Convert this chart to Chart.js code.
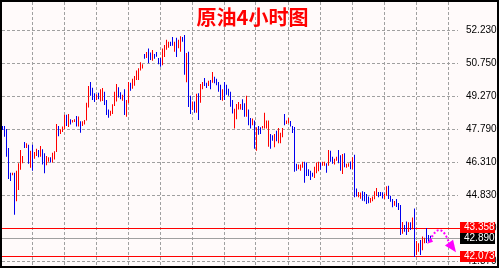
<!DOCTYPE html>
<html>
<head>
<meta charset="utf-8">
<script src="https://cdn.jsdelivr.net/npm/chart.js@4.4.1/dist/chart.umd.min.js"></script>
<style>
  html, body { margin: 0; padding: 0; background: #fffafa; }
  #wrapper { width: 499px; height: 268px; }
</style>
</head>
<body>
<div id="wrapper"><canvas id="canvas" width="499" height="268"></canvas></div>
<script>
// 4h bars, oldest first (high / low / up=1 red, down=0 blue)
var highs = [
  47.95, 47.95, 47.81, 46.96, 45.85, 45.85, 45.85, 45.94, 46.28, 46.87,
  46.60, 47.23, 47.17, 47.11, 46.84, 47.11, 46.78, 46.93, 46.87, 47.05,
  46.90, 46.72, 46.60, 46.54, 46.54, 46.75, 46.81, 48.04, 47.95, 47.80,
  47.92, 48.45, 48.45, 48.48, 48.25, 48.22, 48.25, 48.40, 48.37, 48.16,
  48.16, 48.22, 48.99, 49.74, 49.92, 49.66, 49.42, 49.37, 49.44, 49.59,
  49.65, 49.48, 49.11, 48.69, 48.63, 48.92, 49.48, 49.83, 49.68, 49.46,
  49.35, 49.59, 49.11, 49.92, 49.89, 50.06, 50.19, 50.43, 50.54, 50.81,
  50.72, 51.18, 51.27, 51.42, 51.24, 51.36, 51.18, 51.27, 51.00, 51.00,
  51.42, 51.58, 51.81, 51.72, 51.72, 51.94, 51.72, 51.90, 51.81, 51.97,
  51.94, 52.03, 51.22, 51.28, 49.30, 49.04, 49.04, 49.39, 49.42, 49.83,
  49.92, 50.10, 49.89, 49.98, 50.01, 50.37, 50.16, 50.07, 49.92, 49.80,
  49.59, 49.92, 49.80, 49.62, 49.48, 49.11, 48.72, 48.93, 49.02, 48.93,
  49.15, 48.97, 49.30, 48.69, 48.31, 48.28, 48.19, 47.89, 47.95, 47.89,
  47.95, 48.54, 48.19, 48.19, 47.59, 47.53, 47.59, 47.73, 47.86, 47.64,
  47.86, 48.48, 48.19, 48.31, 48.17, 47.95, 47.90, 46.25, 46.22, 46.22,
  46.34, 46.34, 46.31, 46.01, 45.94, 45.85, 46.12, 46.31, 46.34, 46.31,
  46.34, 46.34, 46.28, 46.87, 46.84, 46.57, 46.48, 46.57, 46.87, 46.63,
  46.69, 46.72, 46.25, 46.28, 46.36, 46.54, 46.66, 45.14, 44.99, 44.96,
  45.02, 44.99, 44.90, 44.78, 44.72, 44.78, 45.02, 45.17, 44.99, 44.99,
  44.98, 44.91, 45.25, 45.27, 44.82, 44.67, 44.58, 44.67, 44.49, 44.40,
  43.64, 43.51, 43.66, 43.63, 43.63, 43.84, 44.25, 42.79, 42.69, 42.84,
  42.99, 42.94, 43.37, 43.06, 43.03
];
var lows = [
  47.77, 47.46, 46.57, 45.57, 45.48, 45.74, 43.97, 44.57, 45.08, 45.98,
  46.28, 46.96, 46.96, 46.25, 46.07, 45.94, 46.48, 46.60, 46.54, 46.57,
  46.22, 45.83, 46.19, 46.34, 46.31, 46.31, 46.45, 46.78, 47.49, 47.59,
  47.68, 47.80, 47.95, 47.90, 48.01, 48.10, 48.13, 47.92, 47.92, 47.64,
  47.95, 48.01, 48.19, 48.78, 49.30, 49.11, 49.02, 49.11, 49.15, 49.04,
  49.07, 48.89, 48.44, 48.32, 48.41, 48.49, 48.84, 49.04, 49.22, 49.15,
  49.08, 48.44, 48.36, 48.97, 49.53, 49.62, 49.75, 50.01, 50.01, 50.43,
  50.52, 50.96, 51.00, 50.76, 50.91, 50.87, 50.96, 51.05, 50.72, 50.60,
  50.67, 51.04, 51.37, 51.46, 51.53, 51.55, 51.28, 51.04, 51.43, 51.28,
  51.72, 50.24, 49.91, 48.80, 48.48, 48.66, 48.54, 48.54, 48.22, 48.99,
  49.59, 49.74, 49.65, 49.74, 49.59, 49.89, 49.86, 49.77, 49.48, 49.11,
  49.08, 49.11, 49.35, 49.30, 48.81, 48.51, 47.83, 48.25, 48.69, 48.69,
  48.66, 48.36, 48.36, 47.98, 47.83, 47.98, 46.93, 46.84, 47.55, 47.59,
  47.83, 47.83, 47.83, 47.02, 46.93, 47.29, 46.99, 47.26, 47.17, 47.17,
  47.44, 47.98, 48.04, 48.07, 47.92, 47.63, 45.90, 45.94, 46.01, 45.94,
  46.07, 45.40, 45.70, 45.70, 45.52, 45.67, 45.61, 45.83, 45.92, 45.98,
  46.16, 46.16, 45.85, 46.16, 46.34, 46.25, 46.22, 46.39, 46.28, 45.94,
  45.79, 46.10, 46.07, 46.12, 46.01, 46.01, 44.75, 44.78, 44.75, 44.69,
  44.60, 44.57, 44.45, 44.48, 44.51, 44.57, 44.66, 44.81, 44.75, 44.81,
  44.70, 44.67, 44.82, 44.67, 44.55, 44.30, 44.37, 44.32, 44.18, 43.06,
  43.11, 43.21, 43.06, 43.19, 43.28, 43.32, 42.07, 42.16, 42.31, 42.16,
  42.38, 42.69, 42.70, 42.76, 42.82
];
var upBars = [
  0,0,0,0,0,1,0,1,1,1,
  1,0,1,0,1,0,1,1,0,1,
  0,0,1,1,0,1,1,1,0,1,
  1,1,0,1,0,1,1,0,1,0,
  1,1,1,1,0,0,0,1,0,1,
  1,0,0,0,1,1,1,1,0,0,
  1,0,1,1,0,1,1,1,1,1,
  1,0,1,0,0,1,0,0,0,0,
  1,1,1,1,0,0,1,0,1,1,
  0,0,1,0,0,1,0,1,0,1,
  1,0,0,1,0,1,0,0,0,0,
  1,0,0,0,0,0,1,1,1,1,
  0,0,1,0,0,1,0,1,0,0,
  1,1,1,1,0,0,1,0,1,1,
  1,0,1,1,0,0,0,0,1,1,
  1,0,0,0,0,0,1,1,1,0,
  1,1,0,1,0,0,1,1,0,0,
  1,0,1,1,0,1,0,0,1,1,
  0,0,0,0,1,1,1,1,0,0,
  0,1,1,0,0,0,1,0,0,0,
  1,0,0,1,0,1,0,1,1,0,
  1,1,0,0,0
];
var yTicks = [52.23, 50.75, 49.27, 47.79, 46.31, 44.83, 43.35, 41.87];
var levelValues = [43.358, 42.890, 42.073];
var levelLineColors = ['#ff0000', '#a0a0a0', '#ff0000'];
var levelBoxColors = ['#ff0000', '#000000', '#ff0000'];
// projected move drawn in magenta: [bar, price]
var arrowStart = [213.75, 42.80];
var arrowCtrl = [218.75, 43.80];
var arrowEnd = [223.25, 42.72];
var arrowTip = [226.75, 42.28];
var titleText = '原油4小时图';

var upColor = '#ff0000';
var downColor = '#0000ee';
var gridColor = '#a0a0a0';

var overlay = {
  id: 'overlay',
  beforeDraw: function(chart) {
    var ctx = chart.ctx;
    ctx.save();
    ctx.fillStyle = '#fffafa';
    ctx.fillRect(0, 0, chart.width, chart.height);
    ctx.restore();
  },
  beforeDatasetsDraw: function(chart) {
    var ctx = chart.ctx, ys = chart.scales.y, area = chart.chartArea;
    ctx.save();
    ctx.lineWidth = 1;
    levelValues.forEach(function(v, i) {
      var py = Math.round(ys.getPixelForValue(v) - 0.5) + 0.5;
      ctx.strokeStyle = levelLineColors[i];
      ctx.beginPath();
      ctx.moveTo(area.left, py);
      ctx.lineTo(area.right + 2, py);
      ctx.stroke();
    });
    ctx.restore();
  },
  afterDraw: function(chart) {
    var ctx = chart.ctx, xs = chart.scales.x, ys = chart.scales.y;
    ctx.save();

    // price boxes on the axis
    ctx.font = '10px "Liberation Sans", Arial, sans-serif';
    ctx.textBaseline = 'middle';
    ctx.textAlign = 'left';
    levelValues.forEach(function(v, i) {
      var py = Math.round(ys.getPixelForValue(v));
      ctx.fillStyle = levelBoxColors[i];
      ctx.fillRect(460, py - 6, 35, 11);
      ctx.fillStyle = '#ffffff';
      ctx.fillText(v.toFixed(3), 464, py - 0.5);
    });

    // magenta dotted arrow
    function px(p) { return [xs.getPixelForValue(p[0]), ys.getPixelForValue(p[1])]; }
    var s = px(arrowStart), c = px(arrowCtrl), e = px(arrowEnd), t = px(arrowTip);
    ctx.strokeStyle = '#ff00ff';
    ctx.fillStyle = '#ff00ff';
    ctx.lineWidth = 2;
    ctx.setLineDash([2, 2]);
    ctx.beginPath();
    ctx.moveTo(s[0], s[1]);
    ctx.quadraticCurveTo(c[0], c[1], e[0], e[1]);
    ctx.stroke();
    ctx.setLineDash([]);
    var dx = t[0] - e[0], dy = t[1] - e[1], len = Math.sqrt(dx * dx + dy * dy);
    var nx = -dy / len * 5, ny = dx / len * 5;
    ctx.beginPath();
    ctx.moveTo(t[0], t[1]);
    ctx.lineTo(e[0] + nx, e[1] + ny);
    ctx.lineTo(e[0] - nx, e[1] - ny);
    ctx.closePath();
    ctx.fill();
    // small head at the start
    ctx.beginPath();
    ctx.moveTo(s[0] - 3, s[1] + 3);
    ctx.lineTo(s[0] + 1, s[1] - 3);
    ctx.lineTo(s[0] + 3, s[1] + 1);
    ctx.closePath();
    ctx.fill();

    // title
    ctx.font = 'bold 20px "Noto Sans CJK SC", sans-serif';
    ctx.textAlign = 'center';
    ctx.textBaseline = 'middle';
    ctx.fillStyle = '#ff0000';
    ctx.fillText(titleText, 252.5, 17.5);

    // black frame
    ctx.fillStyle = '#000000';
    ctx.fillRect(0, 0, chart.width, 2);
    ctx.fillRect(0, 0, 2, chart.height);
    ctx.fillRect(chart.width - 2, 0, 2, chart.height);
    ctx.fillRect(0, chart.height - 2, chart.width, 2);
    ctx.restore();
  }
};

var barData = highs.map(function(h, i) {
  return { x: i, y: [lows[i], h] };
});
var barColors = upBars.map(function(u) { return u ? upColor : downColor; });

new Chart(document.getElementById('canvas'), {
  type: 'bar',
  data: {
    datasets: [{
      data: barData,
      backgroundColor: barColors,
      borderWidth: 0,
      barThickness: 1,
      inflateAmount: 0
    }]
  },
  options: {
    responsive: false,
    animation: false,
    events: [],
    layout: { padding: { left: 2, right: 2, top: 2, bottom: 2 } },
    plugins: { legend: { display: false }, tooltip: { enabled: false } },
    scales: {
      x: {
        type: 'linear',
        min: -0.25,
        max: 227.75,
        offset: false,
        grid: { color: gridColor, drawTicks: false, offset: false },
        border: { display: false, dash: [3, 2] },
        ticks: { display: false },
        afterBuildTicks: function(scale) {
          var t = [];
          for (var v = 14.75; v < 227; v += 16) t.push({ value: v });
          scale.ticks = t;
        },
        afterFit: function(scale) {
          scale.height = 0;
          scale.paddingLeft = 0;
          scale.paddingRight = 0;
        }
      },
      y: {
        position: 'right',
        min: 41.669,
        max: 53.507,
        grid: { color: gridColor, drawTicks: false },
        border: { display: false, dash: [3, 2] },
        ticks: {
          autoSkip: false,
          padding: 8,
          color: '#000000',
          font: { family: '"Liberation Sans", Arial, sans-serif', size: 10 },
          callback: function(v) { return Number(v).toFixed(3); }
        },
        afterBuildTicks: function(scale) {
          scale.ticks = yTicks.map(function(v) { return { value: v }; });
        },
        afterFit: function(scale) {
          scale.width = 39;
          scale.paddingTop = 0;
          scale.paddingBottom = 0;
        }
      }
    }
  },
  plugins: [overlay]
});
</script>
</body>
</html>
